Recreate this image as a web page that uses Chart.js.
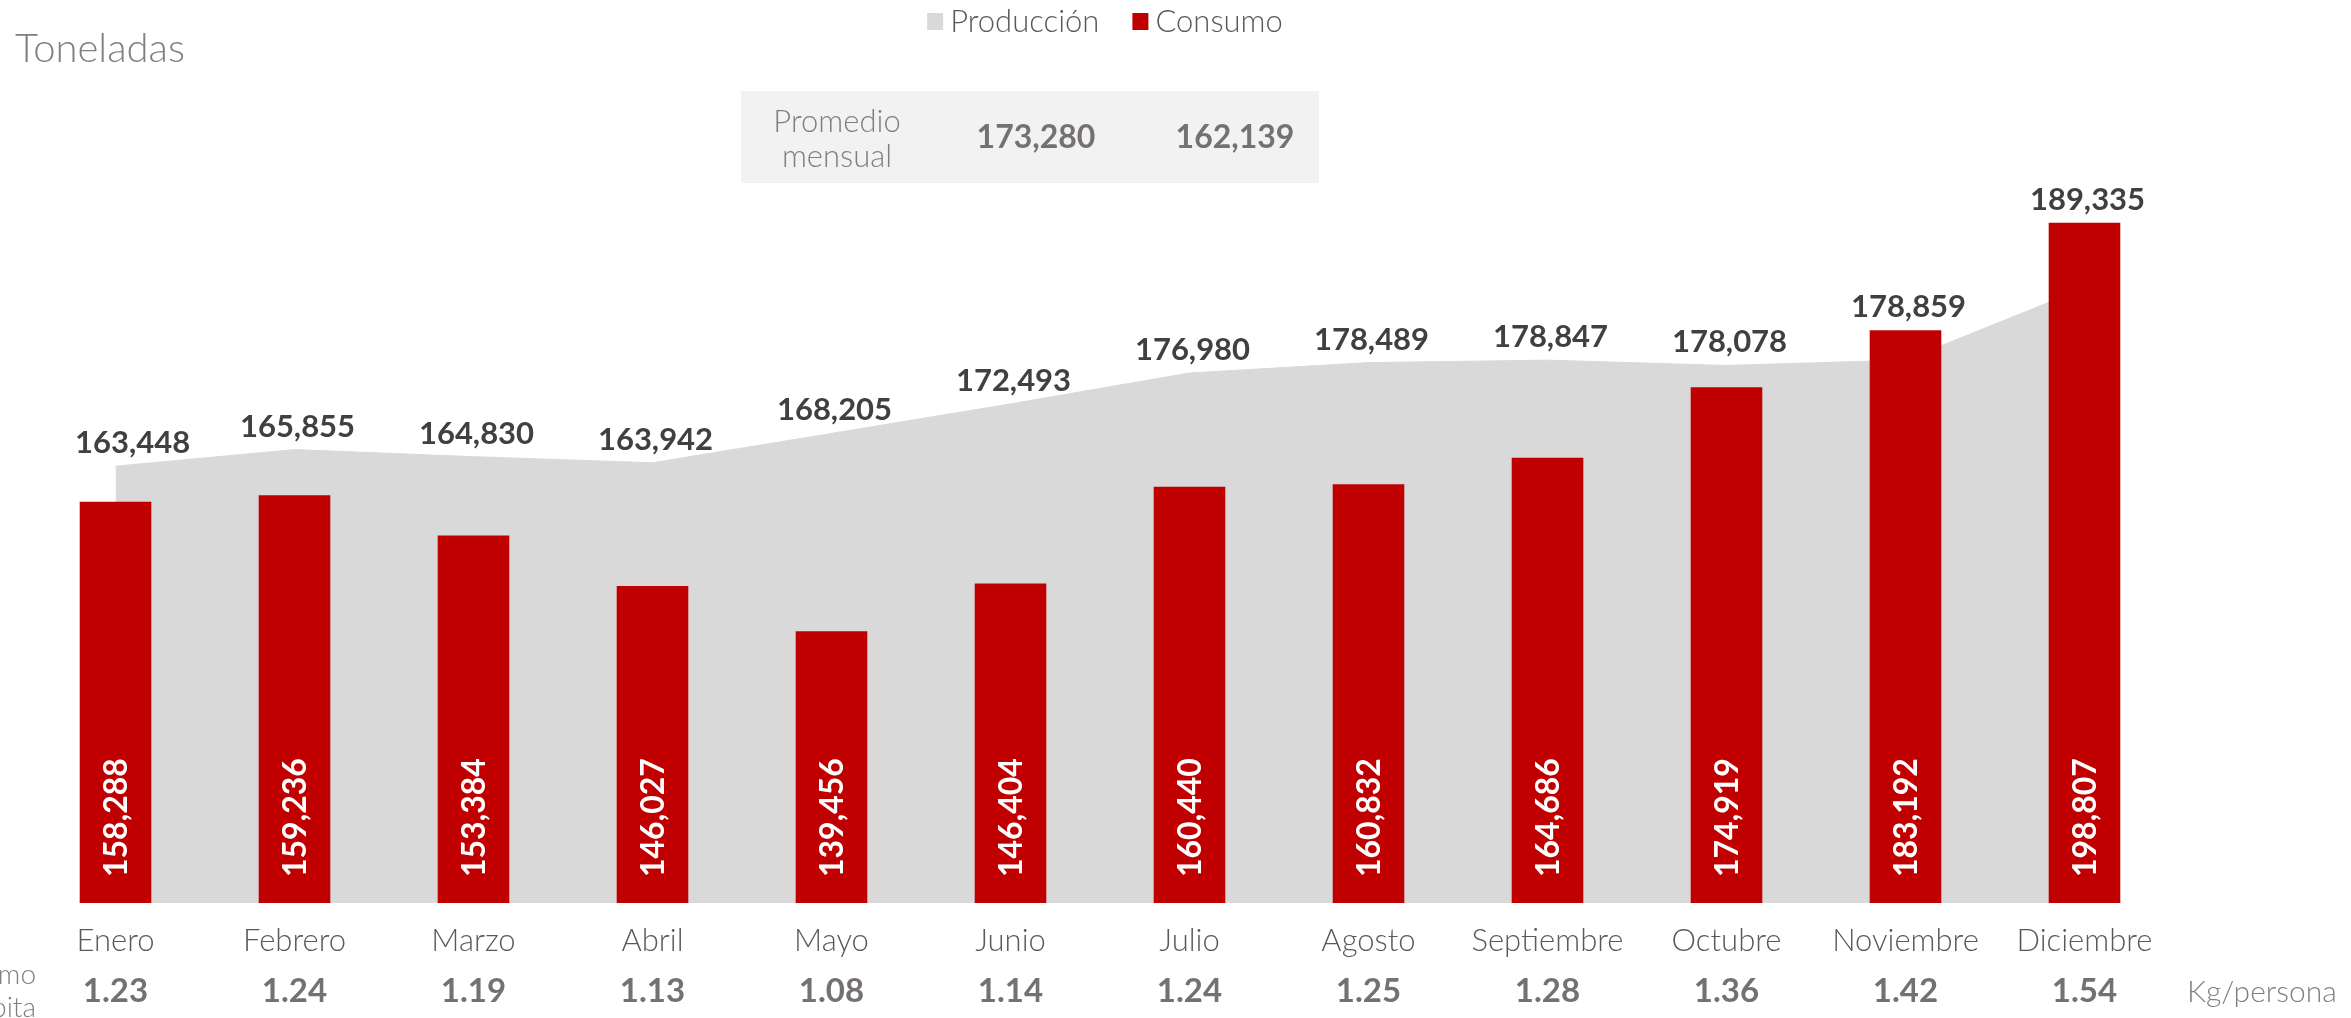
<!DOCTYPE html>
<html lang="es">
<head>
<meta charset="utf-8">
<title>Producción y consumo mensual</title>
<script src="https://cdn.jsdelivr.net/npm/chart.js@4.4.1/dist/chart.umd.min.js"></script>
<style>
  html, body { margin: 0; padding: 0; background: #fff; }
  #wrap { position: relative; width: 2351px; height: 1018px; }
</style>
</head>
<body>
<div id="wrap"><canvas id="myChart"></canvas></div>
<script>
'use strict';

// ***** DATA *****
let months = ['Enero', 'Febrero', 'Marzo', 'Abril', 'Mayo', 'Junio', 'Julio', 'Agosto', 'Septiembre', 'Octubre', 'Noviembre', 'Diciembre'];
let produccion = [163448, 165855, 164830, 163942, 168205, 172493, 176980, 178489, 178847, 178078, 178859, 189335];
let consumo = [158288, 159236, 153384, 146027, 139456, 146404, 160440, 160832, 164686, 174919, 183192, 198807];
let perCapita = ['1.23', '1.24', '1.19', '1.13', '1.08', '1.14', '1.24', '1.25', '1.28', '1.36', '1.42', '1.54'];
let promedio = [173280, 162139];

// ***** LOOK *****
let ctx = document.getElementById('myChart');
let yMin = 100000;
let pxPerTon = 0.006885;
let baseY = 903;
let fontName = 'Lato';
let grey = '#D9D9D9';
let red = '#C00000';

function fmt(n){
  return n.toLocaleString('en-US');
}

// **** EXTRA TEXT, LABELS, LEGEND ****
let extrasPlugin = {
  id: 'extras',
  afterDatasetsDraw(chart){
    let c = chart.ctx;
    let area = chart.chartArea;
    let xScale = chart.scales.x;
    let lineMeta = chart.getDatasetMeta(0);
    let barMeta = chart.getDatasetMeta(1);
    c.save();

    // title
    c.font = '300 40px ' + fontName;
    c.fillStyle = '#7F7F7F';
    c.textAlign = 'left';
    c.textBaseline = 'alphabetic';
    c.fillText('Toneladas', 15, 62);

    // legend
    c.font = '300 31px ' + fontName;
    c.textBaseline = 'middle';
    let items = [
      {text: chart.data.datasets[0].label, color: grey},
      {text: chart.data.datasets[1].label, color: red}
    ];
    let total = 0;
    items.forEach(function(it, i){
      it.w = c.measureText(it.text).width;
      total += 16 + 7 + it.w + (i ? 0 : 33);
    });
    let lx = (area.left + area.right) / 2 + 5 - total / 2;
    items.forEach(function(it){
      c.fillStyle = it.color;
      c.fillRect(lx, 13, 16, 17);
      c.fillStyle = '#595959';
      c.fillText(it.text, lx + 23, 22);
      lx += 23 + it.w + 33;
    });

    // monthly average box
    c.fillStyle = '#F2F2F2';
    c.fillRect(741, 91, 578, 92);
    c.textAlign = 'center';
    c.fillStyle = '#7F7F7F';
    c.font = '300 31px ' + fontName;
    c.fillText('Promedio', 837, 122);
    c.fillText('mensual', 837, 157);
    c.fillStyle = '#767171';
    c.font = '700 32px ' + fontName;
    c.fillText(fmt(promedio[0]), 1036, 138);
    c.fillText(fmt(promedio[1]), 1235, 138);

    // production labels, above the higher of area point and bar top
    c.fillStyle = '#404040';
    c.font = '700 31px ' + fontName;
    lineMeta.data.forEach(function(pt, i){
      let txt = fmt(produccion[i]);
      let w = c.measureText(txt).width;
      let top = Math.min(pt.y, barMeta.data[i].y);
      let x = Math.max(pt.x + 3, 75 + w / 2);
      c.fillText(txt, x, top - 23);
    });

    // consumption labels inside the bars, read bottom to top
    c.fillStyle = '#FFFFFF';
    c.textAlign = 'left';
    c.font = '700 32px ' + fontName;
    barMeta.data.forEach(function(bar, i){
      let bottom = Math.min(bar.base, area.bottom);
      c.save();
      c.translate(bar.x + 1, bottom - 26);
      c.rotate(-Math.PI / 2);
      c.fillText(fmt(consumo[i]), 0, 0);
      c.restore();
    });

    // per capita row
    c.textAlign = 'center';
    c.fillStyle = '#767171';
    c.font = '700 33px ' + fontName;
    perCapita.forEach(function(v, i){
      c.fillText(v, xScale.getPixelForValue(i), 991);
    });
    c.fillStyle = '#7F7F7F';
    c.font = '300 28px ' + fontName;
    c.textAlign = 'right';
    c.fillText('Consumo', 36, 975);
    c.fillText('per cápita', 36, 1008);
    c.textAlign = 'left';
    c.font = '300 30px ' + fontName;
    c.fillText('Kg/persona', 2187, 992);

    c.restore();
  }
};

// **** CHART ****
let chartObj = {
  type: 'bar',
  data: {
    labels: months,
    datasets: [{
      type: 'line',
      label: 'Producción',
      data: produccion,
      fill: 'start',
      backgroundColor: grey,
      borderColor: grey,
      borderWidth: 1,
      pointRadius: 0,
      tension: 0,
      order: 2
    },
    {
      type: 'bar',
      label: 'Consumo',
      data: consumo,
      backgroundColor: red,
      barPercentage: 0.4,
      categoryPercentage: 1,
      order: 1
    }]
  },
  options: {
    responsive: true,
    maintainAspectRatio: false,
    animation: false,
    layout: {
      padding: {top: 0, left: 26, right: 177, bottom: 40}
    },
    plugins: {
      legend: {display: false},
      tooltip: {enabled: false}
    },
    scales: {
      x: {
        grid: {display: false, drawTicks: false},
        border: {display: false},
        ticks: {
          color: '#595959',
          font: {family: fontName, size: 31, weight: 300},
          padding: 19,
          maxRotation: 0,
          autoSkip: false
        }
      },
      y: {
        display: false,
        min: yMin,
        max: 230000
      }
    }
  },
  plugins: [extrasPlugin]
};

let myChart = new Chart(ctx, chartObj);

// put the baseline where it belongs, then fix the value scale
myChart.options.layout.padding.bottom += myChart.chartArea.bottom - baseY;
myChart.update('none');
myChart.options.scales.y.max = yMin + (myChart.chartArea.bottom - myChart.chartArea.top) / pxPerTon;
myChart.update('none');
</script>
</body>
</html>
